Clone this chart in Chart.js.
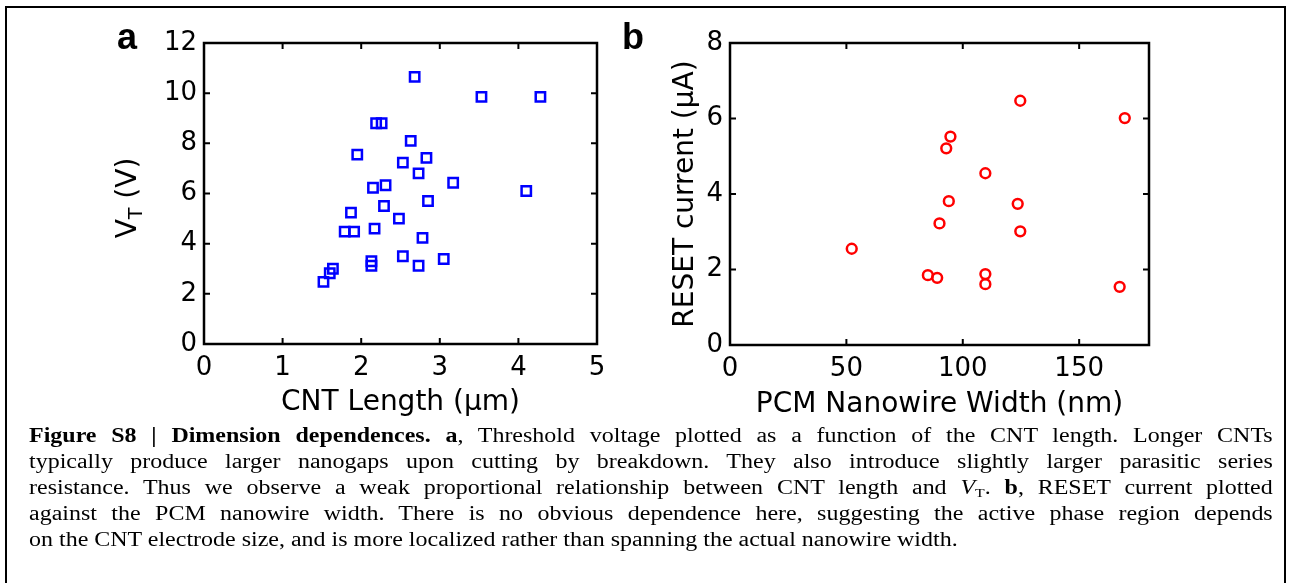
<!DOCTYPE html>
<html><head><meta charset="utf-8">
<script src="https://cdn.jsdelivr.net/npm/chart.js@4.4.0/dist/chart.umd.min.js"></script>
<style>
html,body{margin:0;padding:0;background:#fff;}
body{width:1289px;height:583px;position:relative;overflow:hidden;font-family:"DejaVu Sans",sans-serif;}
#frame{position:absolute;left:5px;top:6px;width:1281px;height:600px;border:2.5px solid #000;box-sizing:border-box;}
canvas{position:absolute;top:0;}
.panel{position:absolute;font-family:"Liberation Sans",Arial,sans-serif;font-weight:bold;font-size:36px;line-height:36px;}
#ytA{position:absolute;left:127px;top:198px;transform:translate(-50%,-50%) rotate(-90deg);white-space:nowrap;font-size:28px;line-height:32px;}
#ytA sub{font-size:19px;vertical-align:-6px;line-height:0;}
#caption{position:absolute;left:29px;width:1063px;top:422px;transform:scaleX(1.17);transform-origin:0 0;font-family:"Liberation Serif","Times New Roman",serif;font-size:20.5px;line-height:26px;}
#caption div{text-align:justify;text-align-last:justify;white-space:nowrap;}
#caption div.last{text-align-last:left;}
#caption sub{font-size:13.5px;vertical-align:-3px;line-height:0;}
</style>
</head><body>
<div id="frame"></div>
<canvas id="cA" width="640" height="430" style="left:0px"></canvas>
<canvas id="cB" width="560" height="430" style="left:620px"></canvas>
<div class="panel" style="left:117px;top:19px">a</div>
<div class="panel" style="left:622px;top:19px">b</div>
<div id="ytA">V<sub>T</sub> (V)</div>
<div id="caption">
<div><b>Figure S8 | Dimension dependences.</b> <b>a</b>, Threshold voltage plotted as a function of the CNT length. Longer CNTs</div>
<div>typically produce larger nanogaps upon cutting by breakdown. They also introduce slightly larger parasitic series</div>
<div>resistance. Thus we observe a weak proportional relationship between CNT length and <i>V</i><sub>T</sub>. <b>b</b>, RESET current plotted</div>
<div>against the PCM nanowire width. There is no obvious dependence here, suggesting the active phase region depends</div>
<div class="last">on the CNT electrode size, and is more localized rather than spanning the actual nanowire width.</div>
</div>
<script>
// Panel a: threshold voltage vs CNT length
const cntLength = [2.68,3.53,4.28,2.19,2.26,2.63,1.95,2.83,2.53,2.73,3.17,4.10,2.15,2.31,2.85,2.29,1.87,2.48,1.79,1.91,2.17,2.78,2.53,3.05,2.13,2.13,2.73,1.64,1.60,1.52];
const thresholdV = [10.65,9.85,9.85,8.8,8.8,8.1,7.55,7.42,7.23,6.8,6.43,6.1,6.23,6.33,5.7,5.5,5.24,5.0,4.48,4.48,4.6,4.23,3.5,3.39,3.3,3.12,3.12,3.0,2.82,2.48];
const xTicksA = [0,1,2,3,4,5];
const yTicksA = [0,2,4,6,8,10,12];

// Panel b: RESET current vs PCM nanowire width
const nanowireWidth = [124.7,169.6,94.7,92.9,109.7,94,123.6,90,124.7,52.3,85,89,109.7,109.7,167.4];
const resetCurrent = [6.47,6.01,5.52,5.21,4.55,3.81,3.74,3.22,3.01,2.55,1.85,1.78,1.88,1.61,1.54];
const xTicksB = [0,50,100,150];
const yTicksB = [0,2,4,6,8];

const tickFont = {family:'"DejaVu Sans", sans-serif', size:26};
const titleFont = {family:'"DejaVu Sans", sans-serif', size:28};

const boxTicks = {
  id:'boxTicks',
  afterDraw(chart){
    const {ctx, chartArea:a, scales:{x,y}} = chart;
    ctx.save();
    ctx.strokeStyle='#000';
    ctx.lineWidth=2;
    const L=6;
    ctx.beginPath();
    x.ticks.forEach(t=>{const p=x.getPixelForValue(t.value);
      ctx.moveTo(p,a.bottom);ctx.lineTo(p,a.bottom-L);
      ctx.moveTo(p,a.top);ctx.lineTo(p,a.top+L);});
    y.ticks.forEach(t=>{const p=y.getPixelForValue(t.value);
      ctx.moveTo(a.left,p);ctx.lineTo(a.left+L,p);
      ctx.moveTo(a.right,p);ctx.lineTo(a.right-L,p);});
    ctx.stroke();
    ctx.lineWidth=2.5;
    ctx.strokeRect(a.left,a.top,a.right-a.left,a.bottom-a.top);
    ctx.restore();
  }
};

function makeChart(id, xs, ys, color, style, radius, xr, yr, xt, yt, xTitle, yTitle, pad, yW, xH, xTitlePad, yTitlePad){
  const pts = xs.map((v,i)=>({x:v,y:ys[i]}));
  return new Chart(document.getElementById(id), {
    type:'scatter',
    data:{datasets:[{data:pts, pointStyle:style, pointRadius:radius, pointHoverRadius:radius,
      borderColor:color, backgroundColor:'rgba(0,0,0,0)', pointBorderWidth:2.5, showLine:false}]},
    options:{
      responsive:false, animation:false, devicePixelRatio:1,
      layout:{padding:pad},
      plugins:{legend:{display:false}, tooltip:{enabled:false}},
      scales:{
        x:{type:'linear', min:xr[0], max:xr[1],
          afterBuildTicks:s=>{s.ticks = xt.map(v=>({value:v}));},
          afterFit:s=>{s.height = xH;},
          grid:{display:false, drawTicks:false}, border:{display:false},
          ticks:{font:tickFont, color:'#000', padding:9, maxRotation:0, autoSkip:false},
          title:{display:true, text:xTitle, font:titleFont, color:'#000', padding:{top:0,bottom:xTitlePad}}},
        y:{type:'linear', min:yr[0], max:yr[1],
          afterBuildTicks:s=>{s.ticks = yt.map(v=>({value:v}));},
          afterFit:s=>{s.width = yW;},
          grid:{display:false, drawTicks:false}, border:{display:false},
          ticks:{font:tickFont, color:'#000', padding:7, autoSkip:false},
          title:{display:!!yTitle, text:yTitle, font:titleFont, color:'#000', padding:{top:yTitlePad,bottom:0}}}
      }
    },
    plugins:[boxTicks]
  });
}

makeChart('cA', cntLength, thresholdV, '#0000ff', 'rect', 6.6, [0,5], [0,12], xTicksA, yTicksA,
  'CNT Length (\u03bcm)', '', {left:0, top:43, right:43, bottom:0}, 204, 86, 10, 0);
makeChart('cB', nanowireWidth, resetCurrent, '#ff0000', 'circle', 4.9, [0,180], [0,8], xTicksB, yTicksB,
  'PCM Nanowire Width (nm)', 'RESET current (\u03bcA)', {left:0, top:43, right:31, bottom:0}, 110, 85, 8, 49);
</script>
</body></html>
